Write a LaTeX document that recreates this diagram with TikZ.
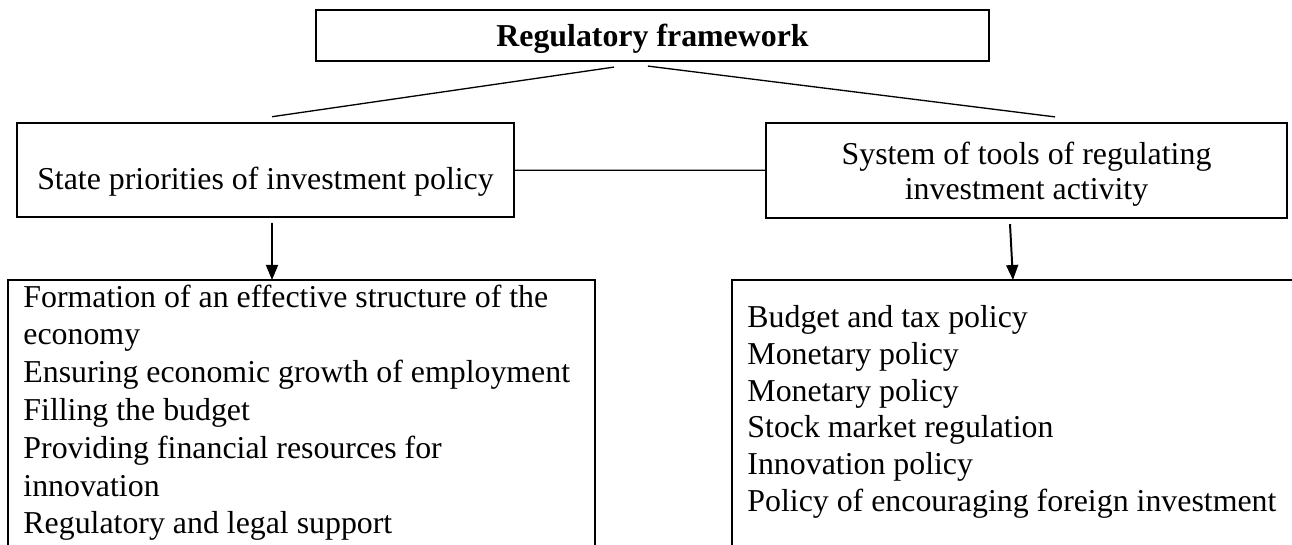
\documentclass[tikz,border=0pt]{standalone}
\usepackage{fontspec}
\setmainfont{Liberation Serif}
\usetikzlibrary{arrows.meta}

\begin{document}
\begin{tikzpicture}[x=1.6cm,y=1.6cm,
  box/.style={draw, line width=1pt, inner sep=0pt, font=\fontsize{14.5pt}{15.9pt}\selectfont},
  list/.style={anchor=north west, align=left, inner sep=0pt, font=\fontsize{14.5pt}{17.2pt}\selectfont},
  frame/.style={line width=0.9pt},
  link/.style={line width=0.6pt},
  >={Triangle[length=0.24cm,width=0.19cm]}]
\useasboundingbox (0,0) rectangle (12.92,-5.45);

\node[box, minimum width=10.77cm, minimum height=0.816cm, text height=0.46cm, text depth=0.11cm,
  font=\bfseries\fontsize{14.5pt}{15.9pt}\selectfont] (RF) at (6.525,-0.355) {Regulatory framework};
\node[box, minimum width=7.95cm, minimum height=1.51cm, text height=0.75cm, text depth=0.11cm] (SP) at (2.655,-1.70) {State priorities of investment policy};
\node[box, align=center, minimum width=8.34cm, minimum height=1.52cm, text depth=0pt] (ST) at (10.265,-1.705) {System of tools of regulating\\investment activity};

\node[list] (SPL) at (0.23,-2.843) {Formation of an effective structure of the\\economy\\Ensuring economic growth of employment\\Filling the budget\\Providing financial resources for\\innovation\\Regulatory and legal support};
\node[list, font=\fontsize{14.5pt}{16.7pt}\selectfont] (STL) at (7.47,-3.053) {Budget and tax policy\\Monetary policy\\Monetary policy\\Stock market regulation\\Innovation policy\\Policy of encouraging foreign investment};

% open frames of the two lists
\draw[frame] (0.08,-5.45) -- (0.08,-2.80) -- (5.95,-2.80) -- (5.95,-5.45);
\draw[frame] (7.32,-5.45) -- (7.32,-2.80) -- (12.92,-2.80);
\coordinate (SPa) at (2.72,-2.80);
\coordinate (STa) at (10.13,-2.80);

\path[]
([xshift=-0.616cm,yshift=-0.08cm]RF.south) edge[link] ([xshift=0.104cm,yshift=0.08cm]SP.north)
([xshift=-0.072cm,yshift=-0.064cm]RF.south) edge[link] ([xshift=0.456cm,yshift=0.08cm]ST.north)
(SP) edge[link] (ST)
([xshift=0.104cm,yshift=-0.072cm]SP.south) edge[->, frame] (SPa)
([xshift=-0.264cm,yshift=-0.08cm]ST.south) edge[->, frame] (STa)
;
\end{tikzpicture}
\end{document}
